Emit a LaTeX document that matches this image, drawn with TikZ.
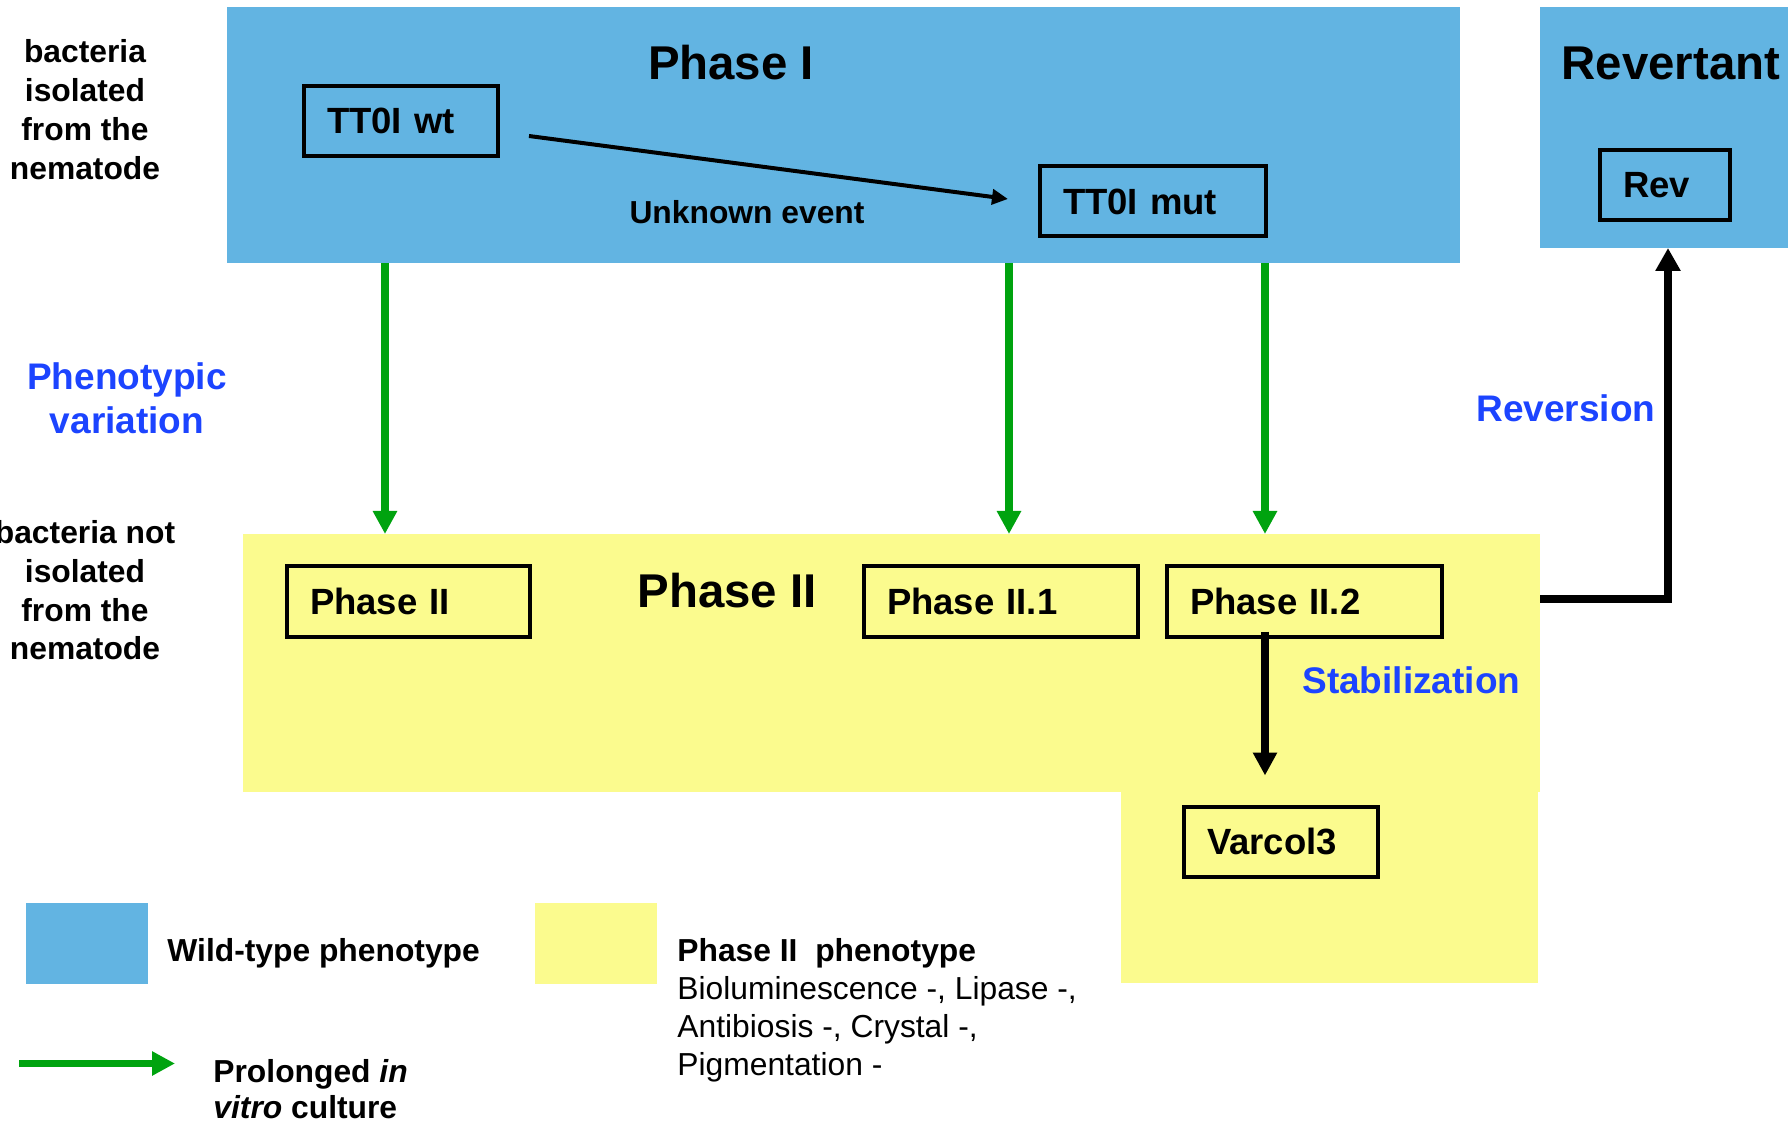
\documentclass[tikz,border=0pt]{standalone}
\usepackage{fontspec}
\setmainfont{Liberation Sans}
\usetikzlibrary{%
  arrows.meta
}
\definecolor{wildblue}{RGB}{98,180,226}
\definecolor{phaseyellow}{RGB}{251,251,142}
\definecolor{culturegreen}{RGB}{0,163,15}
\definecolor{labelblue}{RGB}{28,68,255}
\tikzstyle{region}=[inner sep=0pt,outer sep=0pt,draw=none]
\tikzstyle{strain}=[draw=black,line width=2pt,inner xsep=11.5pt,inner ysep=0pt,minimum height=35pt,align=left,font=\fontsize{18.25}{22}\selectfont\bfseries]
\tikzstyle{title}=[inner sep=0pt,anchor=base,font=\fontsize{23.7}{28}\selectfont\bfseries]
\tikzstyle{note}=[inner sep=0pt,anchor=base,align=center,font=\fontsize{15.9}{19.5}\selectfont\bfseries]
\tikzstyle{event}=[inner sep=0pt,anchor=base,align=center,text=labelblue,font=\fontsize{18.5}{22}\selectfont\bfseries]
\tikzstyle{culture}=[draw=culturegreen,line width=3.75pt,-{Triangle[length=11.5pt,width=11.5pt]}]
\tikzstyle{stabil}=[draw=black,line width=3.75pt,-{Triangle[length=11.5pt,width=11.5pt]}]
\tikzstyle{revert}=[draw=black,line width=4pt,miter limit=10,-{Triangle[length=11.5pt,width=12pt]}]
\tikzstyle{mutate}=[draw=black,line width=2pt,-{Triangle[length=8pt,width=7.5pt]}]

\begin{document}
\begin{tikzpicture}[x=0.5pt,y=-0.5pt]
  \useasboundingbox (0,0) rectangle (1788,1122);
% coloured regions
  \node[region,fill=wildblue,minimum width=616.5pt,minimum height=128pt]    (phaseIbox)  at (843.5,135)  {};
  \node[region,fill=wildblue,minimum width=124pt,minimum height=120.5pt]    (revbox)     at (1664,127.5) {};
  \node[region,fill=phaseyellow,minimum width=648.5pt,minimum height=129pt] (phaseIIbox) at (891.5,663)  {};
  \node[region,fill=phaseyellow,minimum width=208.5pt,minimum height=101.5pt] (varbox)   at (1329.5,881.5) {};
% titles and side notes (multi-line ones sit on their last baseline)
  \node[title] (phaseIlabel)  at (731,80)   {Phase I};
  \node[title] (revlabel)     at (1671,80)  {Revertant};
  \node[title] (phaseIIlabel) at (727,608)  {Phase II};
  \node[note]  (unknown)      at (747,224)  {Unknown event};
  \node[note]  (isolated)     at (85,180)   {bacteria\\isolated\\from the\\nematode};
  \node[note]  (notisolated)  at (85,660)   {bacteria not\\isolated\\from the\\nematode};
  \node[event] (variation)    at (127,434)  {Phenotypic\\variation};
  \node[event] (reversion)    at (1566,422) {Reversion};
  \node[event,anchor=base west] (stabilization) at (1302,693) {Stabilization};
% strains
  \node[strain,text width=74pt]    (wt)     at (401,121)    {TT0I wt};
  \node[strain,text width=90pt]    (mut)    at (1153,201.5) {TT0I mut};
  \node[strain,text width=42pt]    (rev)    at (1665,185.5) {Rev};
  \node[strain,text width=98.5pt]  (p2)     at (408.5,601.5) {Phase II};
  \node[strain,text width=114pt]   (p21)    at (1001,601.5) {Phase II.1};
  \node[strain,text width=114.5pt] (p22)    at (1304.5,601.5) {Phase II.2};
  \node[strain,text width=74pt]    (varcol) at (1281,841.5) {Varcol3};
% arrows
  \coordinate (c1) at (385,0);
  \coordinate (c2) at (1009,0);
  \coordinate (c3) at (1265,0);
  \coordinate (c4) at (1668,599.5);
  \draw[mutate]  ([xshift=14.5pt,yshift=-7.5pt]wt.east) -- ([xshift=-15pt,yshift=1.25pt]mut.west);
  \draw[culture] (c1 |- phaseIbox.south) -- (c1 |- phaseIIbox.north);
  \draw[culture] (c2 |- phaseIbox.south) -- (c2 |- phaseIIbox.north);
  \draw[culture] (c3 |- phaseIbox.south) -- (c3 |- phaseIIbox.north);
  \draw[stabil]  ([yshift=3.5pt]c3 |- p22.south) -- ([yshift=14.5pt]c3 |- varcol.north);
  \draw[revert]  (c4 -| phaseIIbox.east) -| (revbox.south -| c4);
% legend
  \node[region,fill=wildblue,minimum width=61pt,minimum height=40.5pt]    (wildkey)  at (87,943.5)  {};
  \node[region,fill=phaseyellow,minimum width=61pt,minimum height=40.5pt] (phasekey) at (596,943.5) {};
  \coordinate (lg0) at (19,1063.5);
  \coordinate (lg1) at (175,1063.5);
  \draw[culture] (lg0) -- (lg1);
  \node[note,anchor=base west] (wildlabel) at (167,961) {Wild-type phenotype};
  \node[note,anchor=base west,align=left,font=\fontsize{15.9}{18}\selectfont\bfseries] (culturelabel) at (213,1118) {Prolonged \textit{in}\\\textit{vitro} culture};
  \node[note,anchor=base west,align=left,font=\fontsize{15.9}{19}\selectfont] (phaselabel) at (677,1075) {\textbf{Phase II\ \ phenotype}\\Bioluminescence -, Lipase -,\\Antibiosis -, Crystal -,\\Pigmentation -};
\end{tikzpicture}
\end{document}
